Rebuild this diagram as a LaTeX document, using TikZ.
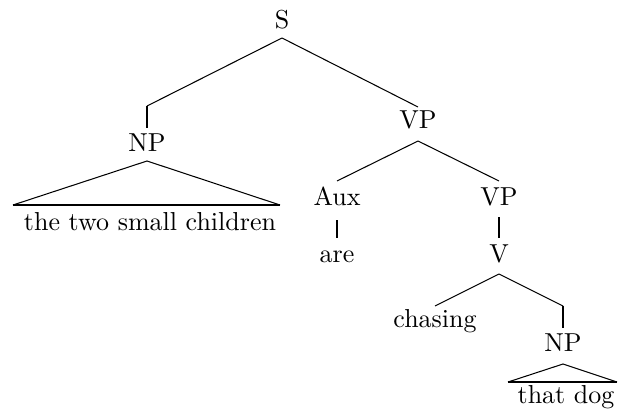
\documentclass[tikz,border=0pt]{standalone}
\begin{document}
\begin{tikzpicture}[x=0.385pt,y=-0.385pt,
  lab/.style={inner sep=0pt, anchor=base, font=\fontsize{10}{12}\selectfont},
  edge/.style={line width=0.4pt},
  vedge/.style={line width=0.65pt},
  bedge/.style={line width=0.95pt},
  base/.style={line width=0.8pt}]
\useasboundingbox (0,0) rectangle (620,414);
% nodes
\node[lab] (S) at (282,29) {S};
\node[lab] (NP) at (147,152) {NP};
\node[lab] (VP) at (418,129) {VP};
\node[lab] (tw) at (150,230) {the two small children};
\node[lab] (Aux) at (337,205) {Aux};
\node[lab] (VPb) at (499,205) {VP};
\node[lab] (are) at (337,262) {are};
\node[lab] (V) at (499,262) {V};
\node[lab] (ch) at (435,327) {chasing};
\node[lab] (NPb) at (563,351) {NP};
\node[lab] (td) at (566,403) {that dog};
% triangle corners
\coordinate (t1l) at (13,205);
\coordinate (t1r) at (280,205);
\coordinate (t2l) at (508,382);
\coordinate (t2r) at (617,382);
% connectors
\draw[edge] (S |- 0,38) -- (NP |- 0,106);
\draw[vedge] (NP |- 0,106) -- (NP |- 0,128);
\draw[edge] (S |- 0,38) -- (VP |- 0,107);
\draw[edge] (t1l) -- (NP |- 0,161) -- (t1r);
\draw[base] (t1l) -- (t1r);
\draw[edge] (VP |- 0,141) -- (Aux |- 0,181);
\draw[edge] (VP |- 0,141) -- (VPb |- 0,181);
\draw[vedge] (Aux |- 0,220) -- (are |- 0,238);
\draw[bedge] (VPb |- 0,217) -- (V |- 0,238);
\draw[edge] (V |- 0,274) -- (ch |- 0,306);
\draw[edge] (V |- 0,274) -- (NPb |- 0,306);
\draw[vedge] (NPb |- 0,306) -- (NPb |- 0,328);
\draw[edge] (t2l) -- (NPb |- 0,364) -- (t2r);
\draw[base] (t2l) -- (t2r);
\end{tikzpicture}
\end{document}
